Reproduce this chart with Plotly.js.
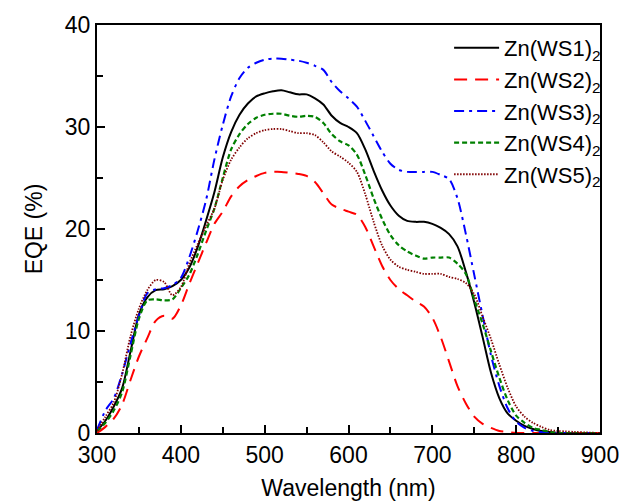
<!DOCTYPE html>
<html>
<head>
<meta charset="utf-8">
<script src="https://cdn.plot.ly/plotly-3.0.1.min.js"></script>
<style>html,body{margin:0;padding:0;background:#fff;}#chart{width:619px;height:501px;}</style>
</head>
<body>
<div id="chart"></div>
<script>
const wavelength = [300,310,320,330,340,350,360,370,380,390,400,410,420,430,440,450,460,470,480,490,500,510,520,530,540,550,560,570,580,590,600,610,620,630,640,650,660,670,680,690,700,710,720,730,740,750,760,770,780,790,800,810,820,830,840,850,900];

const ws1 = [0.2,1.2,2.6,4.4,8.0,11.6,13.3,14.0,14.1,14.4,15.0,16.2,18.2,20.8,23.6,27.0,29.5,31.2,32.3,33.0,33.3,33.5,33.6,33.4,33.2,33.2,32.8,32.2,31.1,30.4,30.0,29.4,27.8,25.7,23.8,22.3,21.3,20.8,20.7,20.7,20.5,20.1,19.5,18.3,15.8,12.8,9.4,5.9,3.4,1.9,1.2,0.7,0.4,0.2,0.1,0,0];

const ws2 = [0,0.6,1.4,2.8,5.2,7.5,9.3,11.0,11.5,11.2,12.5,14.6,16.6,18.6,20.5,21.7,23.2,24.2,24.8,25.2,25.5,25.6,25.6,25.5,25.4,25.2,24.6,23.5,22.4,22.0,21.7,21.4,20.2,18.3,16.4,15.0,14.1,13.5,12.9,12.4,11.3,9.4,7.0,4.6,2.9,1.6,0.9,0.5,0.2,0.1,0,0,0,0,0,0,0];

const ws3 = [0.3,2.2,3.4,5.8,8.8,11.5,13.7,14.1,14.2,14.5,15.2,17.2,19.8,22.8,26.8,30.2,33.0,34.8,35.8,36.3,36.6,36.7,36.7,36.6,36.5,36.3,36.0,35.6,34.4,33.5,32.8,32.0,30.6,29.1,27.6,26.4,25.8,25.6,25.6,25.6,25.6,25.3,24.9,23.0,19.5,15.5,11.5,7.6,4.6,2.4,1.1,0.5,0.2,0.1,0,0,0];

const ws4 = [0.2,1.0,2.2,4.0,7.6,11.2,13.0,13.1,13.0,13.1,14.2,15.5,17.5,19.8,22.0,25.0,27.8,29.3,30.3,30.9,31.2,31.3,31.3,31.1,31.0,31.1,31.0,30.4,29.3,28.6,28.2,27.3,25.3,23.0,21.0,19.4,18.4,17.8,17.4,17.1,17.2,17.2,17.2,16.6,15.6,13.1,10.7,8.0,5.4,3.2,1.7,1.0,0.5,0.3,0.1,0,0];

const ws5 = [0.2,1.6,3.0,5.8,9.5,12.2,14.0,15.0,14.8,13.5,14.3,16.6,18.5,20.3,22.0,24.8,26.8,28.0,28.9,29.4,29.7,29.8,29.8,29.6,29.4,29.4,29.2,28.5,27.6,27.1,26.5,25.6,23.4,20.7,18.4,17.0,16.3,16.0,15.8,15.6,15.6,15.6,15.3,15.1,14.7,13.6,11.4,9.2,6.7,4.4,2.6,1.6,1.0,0.6,0.3,0.2,0];

const seriesNames = ['Zn(WS1)<sub>2</sub>','Zn(WS2)<sub>2</sub>','Zn(WS3)<sub>2</sub>','Zn(WS4)<sub>2</sub>','Zn(WS5)<sub>2</sub>'];
const xTickVals = [300,400,500,600,700,800,900];
const yTickVals = [0,10,20,30,40];

const seriesData = [ws1, ws2, ws3, ws4, ws5];
const styles = [
  {color:'#000000', dash:'solid', width:2},
  {color:'#ff0000', dash:'13px,8px', width:2},
  {color:'#0000ff', dash:'10px,5px,3px,5px', width:2},
  {color:'#008000', dash:'5px,3px', width:2.2},
  {color:'#800000', dash:'1.5px,1.5px', width:1.8}
];

const traces = seriesData.map((ys, i) => ({
  x: wavelength,
  y: ys,
  type: 'scatter',
  mode: 'lines',
  name: seriesNames[i],
  line: {color: styles[i].color, dash: styles[i].dash, width: styles[i].width, shape: 'spline', smoothing: 0.8}
}));

const font = {family: 'Liberation Sans, Arial, sans-serif', size: 23, color: '#000'};

const layout = {
  width: 619, height: 501,
  margin: {l: 97, r: 19, t: 25, b: 68},
  paper_bgcolor: '#fff', plot_bgcolor: '#fff',
  font: font,
  showlegend: true,
  legend: {
    x: 0.70, y: 0.995, xanchor: 'left', yanchor: 'top',
    bgcolor: 'rgba(0,0,0,0)', borderwidth: 0,
    font: {family: 'Liberation Sans, Arial, sans-serif', size: 22, color: '#000'},
    itemwidth: 45, tracegroupgap: 0
  },
  xaxis: {
    range: [300, 900], tickvals: xTickVals, ticktext: xTickVals.map(String),
    ticks: 'inside', ticklen: 8, tickwidth: 2, tickcolor: '#000',
    minor: {dtick: 50, tick0: 300, ticks: 'inside', ticklen: 6, tickwidth: 2, tickcolor: '#000'},
    showline: true, linewidth: 2, linecolor: '#000', mirror: true,
    showgrid: false, zeroline: false,
    ticklabeloverflow: 'allow',
    tickfont: font,
    title: {text: 'Wavelength (nm)', font: font, standoff: 14}
  },
  yaxis: {
    range: [0, 40], tickvals: yTickVals, ticktext: yTickVals.map(String),
    ticks: 'inside', ticklen: 8, tickwidth: 2, tickcolor: '#000',
    minor: {dtick: 5, tick0: 0, ticks: 'inside', ticklen: 6, tickwidth: 2, tickcolor: '#000'},
    showline: true, linewidth: 2, linecolor: '#000', mirror: true,
    showgrid: false, zeroline: false,
    ticklabeloverflow: 'allow',
    tickfont: font,
    title: {text: 'EQE (%)', font: font, standoff: 16}
  }
};

Plotly.newPlot('chart', traces, layout, {displayModeBar: false, staticPlot: true});
</script>
</body>
</html>
